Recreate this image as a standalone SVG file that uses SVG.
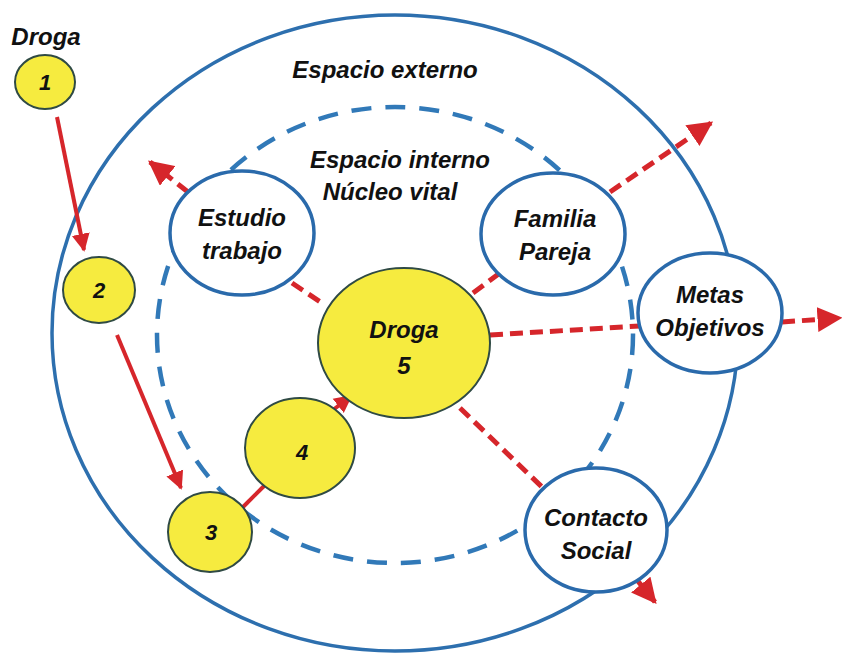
<svg xmlns="http://www.w3.org/2000/svg" width="842" height="655" viewBox="0 0 842 655">
<defs>
<marker id="ah" viewBox="0 0 10 10" refX="9" refY="5" markerWidth="5" markerHeight="5" markerUnits="strokeWidth" orient="auto">
<path d="M0,0 L10,5 L0,10 Z" fill="#d6262b"/>
</marker>
<marker id="ahs" viewBox="0 0 10 10" refX="9" refY="5" markerWidth="4.5" markerHeight="5" markerUnits="strokeWidth" orient="auto">
<path d="M0,0 L10,5 L0,10 Z" fill="#d6262b"/>
</marker>
<style>
.outer{fill:none;stroke:#2d6fae;stroke-width:3.5}
.inner{fill:none;stroke:#3179b8;stroke-width:4.5;stroke-dasharray:20 14}
.blue{fill:#ffffff;stroke:#2a6aab;stroke-width:3.5}
.yel{fill:#f6eb3f;stroke:#2f4a44;stroke-width:2}
.red{fill:none;stroke:#d6262b;stroke-width:4}
.rdash{fill:none;stroke:#d6262b;stroke-width:5;stroke-dasharray:13 7}
text{font-family:"Liberation Sans",Arial,sans-serif;font-weight:bold;font-style:italic;fill:#111;text-anchor:middle}
.lbl{font-size:24px}
.num{font-size:22px}
</style>
</defs>
<rect width="842" height="655" fill="#ffffff"/>
<g id="espacio-externo">
<ellipse class="outer" cx="395" cy="333" rx="343" ry="318"/>
<text class="lbl" x="385" y="78">Espacio externo</text>
</g>
<g id="espacio-interno">
<ellipse class="inner" cx="395" cy="335" rx="238" ry="228"/>
<text class="lbl" x="400" y="168">Espacio interno</text>
<text class="lbl" x="390" y="200">Núcleo vital</text>
</g>
<g id="connectors">
<line class="red" x1="57" y1="117" x2="84" y2="250" marker-end="url(#ahs)"/>
<line class="red" x1="117" y1="335" x2="181" y2="488" marker-end="url(#ahs)"/>
<line class="red" x1="243" y1="507" x2="264" y2="486"/>
<line class="red" x1="333" y1="410" x2="351" y2="396" marker-end="url(#ahs)"/>
<line class="rdash" x1="188" y1="192" x2="150" y2="162" marker-end="url(#ah)"/>
<line class="rdash" x1="292" y1="283" x2="325" y2="305"/>
<line class="rdash" x1="473" y1="293" x2="500" y2="273"/>
<line class="rdash" x1="610" y1="192" x2="711" y2="123" marker-end="url(#ah)"/>
<line class="rdash" x1="490" y1="335" x2="640" y2="326"/>
<line class="rdash" x1="782" y1="322" x2="840" y2="318" marker-end="url(#ah)"/>
<line class="rdash" x1="460" y1="408" x2="543" y2="488"/>
<line class="rdash" x1="637" y1="580" x2="655" y2="602" marker-end="url(#ah)"/>
</g>
<g id="droga-label">
<text class="lbl" x="46" y="45">Droga</text>
</g>
<g id="droga-1">
<ellipse class="yel" cx="45" cy="82" rx="30" ry="27"/>
<text class="num" x="45" y="90">1</text>
</g>
<g id="droga-2">
<ellipse class="yel" cx="99" cy="290" rx="36" ry="33"/>
<text class="num" x="99" y="298">2</text>
</g>
<g id="droga-3">
<ellipse class="yel" cx="210" cy="532" rx="42" ry="40"/>
<text class="num" x="211" y="540">3</text>
</g>
<g id="droga-4">
<ellipse class="yel" cx="300" cy="448" rx="55" ry="50"/>
<text class="num" x="302" y="460">4</text>
</g>
<g id="droga-5">
<ellipse class="yel" cx="404" cy="343" rx="86" ry="75"/>
<text class="lbl" x="404" y="338">Droga</text>
<text class="lbl" x="404" y="374">5</text>
</g>
<g id="estudio-trabajo">
<ellipse class="blue" cx="242" cy="233" rx="72" ry="62"/>
<text class="lbl" x="242" y="226">Estudio</text>
<text class="lbl" x="242" y="259">trabajo</text>
</g>
<g id="familia-pareja">
<ellipse class="blue" cx="553" cy="234" rx="72" ry="61"/>
<text class="lbl" x="555" y="227">Familia</text>
<text class="lbl" x="555" y="260">Pareja</text>
</g>
<g id="metas-objetivos">
<ellipse class="blue" cx="710" cy="313" rx="72" ry="60"/>
<text class="lbl" x="710" y="303">Metas</text>
<text class="lbl" x="710" y="336">Objetivos</text>
</g>
<g id="contacto-social">
<ellipse class="blue" cx="596" cy="530" rx="71" ry="62"/>
<text class="lbl" x="596" y="526">Contacto</text>
<text class="lbl" x="596" y="559">Social</text>
</g>
</svg>
